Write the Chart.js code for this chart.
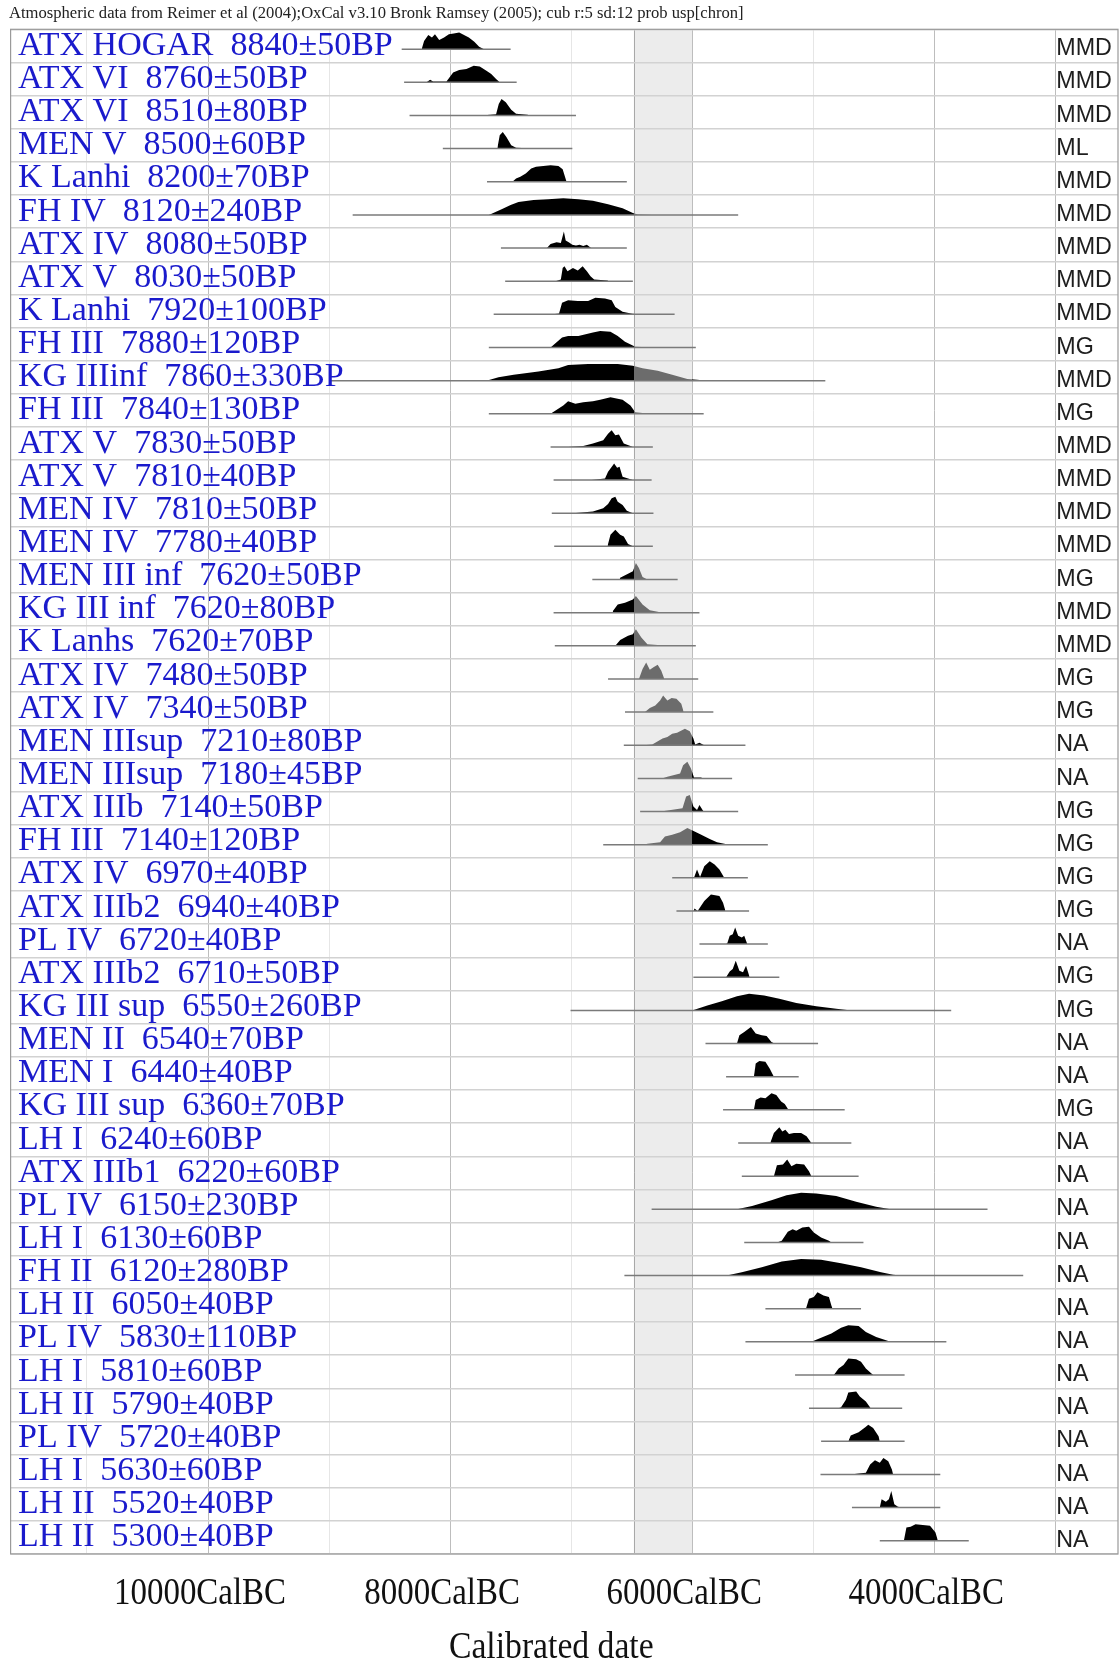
<!DOCTYPE html>
<html>
<head>
<meta charset="utf-8">
<script src="https://cdn.jsdelivr.net/npm/chart.js@4.4.1/dist/chart.umd.min.js"></script>
<style>
  html, body { margin: 0; padding: 0; background: #fff; }
  #wrap { width: 1119px; height: 1664px; }
</style>
</head>
<body>
<div id="wrap"><canvas id="chart" width="1119" height="1664"></canvas></div>
<script>
// sample names, radiocarbon ages (BP) and errors, one per row, top to bottom
const NAMES = ['ATX HOGAR', 'ATX VI', 'ATX VI', 'MEN V', 'K Lanhi', 'FH IV', 'ATX IV', 'ATX V', 'K Lanhi', 'FH III',
  'KG IIIinf', 'FH III', 'ATX V', 'ATX V', 'MEN IV', 'MEN IV', 'MEN III inf', 'KG III inf', 'K Lanhs', 'ATX IV',
  'ATX IV', 'MEN IIIsup', 'MEN IIIsup', 'ATX IIIb', 'FH III', 'ATX IV', 'ATX IIIb2', 'PL IV', 'ATX IIIb2', 'KG III sup',
  'MEN II', 'MEN I', 'KG III sup', 'LH I', 'ATX IIIb1', 'PL IV', 'LH I', 'FH II', 'LH II', 'PL IV',
  'LH I', 'LH II', 'PL IV', 'LH I', 'LH II', 'LH II']
const BP = [8840, 8760, 8510, 8500, 8200, 8120, 8080, 8030, 7920, 7880,
  7860, 7840, 7830, 7810, 7810, 7780, 7620, 7620, 7620, 7480,
  7340, 7210, 7180, 7140, 7140, 6970, 6940, 6720, 6710, 6550,
  6540, 6440, 6360, 6240, 6220, 6150, 6130, 6120, 6050, 5830,
  5810, 5790, 5720, 5630, 5520, 5300]
const ERR = [50, 50, 80, 60, 70, 240, 50, 50, 100, 120,
  330, 130, 50, 40, 50, 40, 50, 80, 70, 50,
  50, 80, 45, 50, 120, 40, 40, 40, 50, 260,
  70, 40, 70, 60, 60, 230, 60, 280, 40, 110,
  60, 40, 40, 60, 40, 40]
const PHASE = ['MMD', 'MMD', 'MMD', 'ML', 'MMD', 'MMD', 'MMD', 'MMD', 'MMD', 'MG',
  'MMD', 'MG', 'MMD', 'MMD', 'MMD', 'MMD', 'MG', 'MMD', 'MMD', 'MG',
  'MG', 'NA', 'NA', 'MG', 'MG', 'MG', 'MG', 'NA', 'MG', 'MG',
  'NA', 'NA', 'MG', 'NA', 'NA', 'NA', 'NA', 'NA', 'NA', 'NA',
  'NA', 'NA', 'NA', 'NA', 'NA', 'NA']

// plotted range of each calibrated date, cal BC [from, to]
const RANGES = [[8400, 7500], [8380, 7450], [8335, 6960], [8060, 6990], [7695, 6540], [8805, 5620], [7580, 6540], [7545, 6490], [7640, 6145], [7680, 5970],
  [8990, 4900], [7680, 5905], [7170, 6325], [7145, 6335], [7160, 6320], [7140, 6325], [6825, 6120], [7145, 5940], [7135, 5970], [6695, 5950],
  [6555, 5825], [6565, 5560], [6450, 5670], [6430, 5620], [6735, 5375], [6165, 5540], [6130, 5530], [5940, 5375], [5990, 5280], [7005, 3860],
  [5890, 4960], [5720, 5120], [5745, 4740], [5620, 4685], [5590, 4625], [6335, 3560], [5570, 4585], [6560, 3265], [5395, 4605], [5560, 3900],
  [5150, 4245], [5035, 4265], [4935, 4245], [4940, 3950], [4680, 3950], [4450, 3715]]

// probability distributions: [cal BC, relative probability]
const DISTS = [
  [[8235, 0], [8215, 0.5], [8180, 0.85], [8150, 0.7], [8125, 0.9], [8090, 0.55], [8050, 0.7], [8010, 0.9], [7970, 0.95], [7925, 1], [7885, 0.85], [7845, 0.7], [7800, 0.45], [7760, 0.15], [7720, 0]],
  [[8195, 0], [8165, 0.15], [8140, 0.05], [8030, 0.05], [7975, 0.6], [7925, 0.75], [7865, 0.8], [7805, 1], [7755, 0.95], [7700, 0.7], [7660, 0.5], [7620, 0.2], [7590, 0]],
  [[7745, 0], [7620, 0.08], [7598, 0.7], [7575, 1], [7540, 0.8], [7495, 0.35], [7455, 0.1], [7360, 0.04], [7345, 0]],
  [[7610, 0], [7590, 0.8], [7565, 1], [7535, 0.7], [7495, 0.2], [7455, 0.05], [7360, 0.03], [7350, 0]],
  [[7485, 0], [7455, 0.2], [7420, 0.3], [7375, 0.5], [7330, 0.8], [7290, 0.9], [7230, 0.95], [7170, 1], [7105, 0.95], [7070, 0.75], [7040, 0.05], [6820, 0.02], [6800, 0]],
  [[7680, 0], [7570, 0.35], [7500, 0.6], [7435, 0.78], [7310, 0.9], [7190, 0.95], [7065, 1], [6940, 0.95], [6820, 0.85], [6695, 0.65], [6575, 0.4], [6490, 0.12], [6450, 0.03], [6330, 0]],
  [[7200, 0], [7170, 0.25], [7120, 0.35], [7085, 0.3], [7060, 1], [7045, 0.45], [7020, 0.35], [6990, 0.2], [6960, 0.15], [6930, 0.2], [6900, 0.12], [6870, 0.2], [6835, 0]],
  [[7130, 0], [7085, 0.1], [7070, 0.8], [7055, 0.9], [7030, 0.6], [6985, 0.8], [6945, 0.65], [6905, 0.9], [6870, 0.6], [6840, 0.3], [6810, 0.1], [6700, 0.04], [6690, 0]],
  [[7150, 0], [7100, 0.05], [7075, 0.7], [7025, 0.85], [6945, 0.8], [6860, 0.8], [6800, 1], [6720, 0.95], [6665, 0.85], [6635, 0.45], [6575, 0.15], [6495, 0.03], [6450, 0]],
  [[7170, 0], [7075, 0.6], [7025, 0.7], [6940, 0.7], [6880, 0.8], [6820, 0.9], [6760, 1], [6675, 0.95], [6615, 0.7], [6555, 0.35], [6470, 0.05], [6370, 0.02], [6360, 0]],
  [[7700, 0], [7600, 0.2], [7475, 0.35], [7270, 0.55], [7105, 0.75], [7025, 0.95], [6860, 1], [6615, 1], [6490, 0.9], [6410, 0.75], [6285, 0.6], [6165, 0.35], [6040, 0.1], [5960, 0.05], [5875, 0]],
  [[7170, 0], [7065, 0.5], [7025, 0.75], [6965, 0.6], [6900, 0.7], [6820, 0.75], [6760, 0.85], [6675, 1], [6575, 0.85], [6510, 0.5], [6470, 0.1], [6370, 0.02], [6360, 0]],
  [[7025, 0], [6900, 0.05], [6820, 0.2], [6735, 0.4], [6695, 0.8], [6665, 1], [6635, 0.7], [6605, 0.75], [6565, 0.2], [6510, 0.05], [6490, 0]],
  [[6830, 0], [6720, 0.1], [6695, 0.5], [6655, 0.9], [6645, 1], [6620, 0.75], [6600, 0.8], [6575, 0.2], [6510, 0.05], [6490, 0]],
  [[6985, 0], [6820, 0.1], [6735, 0.3], [6695, 0.55], [6665, 0.9], [6635, 1], [6615, 0.7], [6575, 0.5], [6540, 0.15], [6490, 0]],
  [[6700, 0], [6675, 0.7], [6635, 1], [6595, 0.7], [6565, 0.6], [6530, 0.15], [6490, 0]],
  [[6600, 0], [6595, 0.1], [6530, 0.35], [6490, 0.5], [6465, 1], [6440, 0.7], [6410, 0.15], [6370, 0]],
  [[6660, 0], [6655, 0.1], [6615, 0.5], [6555, 0.6], [6490, 0.8], [6465, 1], [6410, 0.5], [6350, 0.15], [6285, 0.05], [6250, 0]],
  [[6635, 0], [6595, 0.35], [6530, 0.6], [6490, 0.7], [6465, 1], [6420, 0.5], [6370, 0.1], [6285, 0.05], [6270, 0]],
  [[6440, 0], [6410, 0.6], [6380, 1], [6350, 0.55], [6320, 0.7], [6285, 0.85], [6255, 0.5], [6230, 0]],
  [[6390, 0], [6350, 0.25], [6305, 0.4], [6265, 0.7], [6240, 1], [6205, 0.7], [6170, 0.85], [6130, 0.8], [6090, 0.5], [6070, 0]],
  [[6400, 0], [6330, 0.05], [6245, 0.4], [6205, 0.5], [6165, 0.7], [6125, 0.75], [6060, 1], [6020, 0.85], [5990, 0.4], [5975, 0.05], [5940, 0.15], [5900, 0]],
  [[6250, 0], [6205, 0.1], [6100, 0.3], [6075, 0.8], [6040, 1], [6010, 0.6], [5985, 0.05], [5925, 0.05], [5915, 0]],
  [[6300, 0], [6245, 0.02], [6080, 0.2], [6050, 0.9], [6020, 1], [5990, 0.3], [5960, 0.1], [5940, 0.4], [5910, 0.05], [5900, 0]],
  [[6400, 0], [6370, 0.05], [6265, 0.15], [6225, 0.5], [6165, 0.6], [6100, 0.75], [6040, 1], [5980, 0.8], [5925, 0.6], [5855, 0.35], [5795, 0.15], [5735, 0.05], [5700, 0]],
  [[5985, 0], [5960, 0.5], [5935, 0.05], [5900, 0.7], [5855, 1], [5815, 0.8], [5775, 0.5], [5735, 0]],
  [[5990, 0], [5980, 0.15], [5955, 0], [5900, 0.6], [5845, 1], [5775, 0.9], [5745, 0.5], [5725, 0]],
  [[5720, 0], [5710, 0.05], [5690, 0.5], [5665, 0.6], [5645, 1], [5620, 0.5], [5590, 0.4], [5570, 0.5], [5545, 0]],
  [[5720, 0], [5690, 0.35], [5665, 0.5], [5640, 1], [5610, 0.4], [5580, 0.3], [5555, 0.7], [5525, 0]],
  [[6000, 0], [5875, 0.3], [5755, 0.55], [5630, 0.85], [5530, 1], [5405, 0.9], [5280, 0.7], [5140, 0.45], [4975, 0.25], [4810, 0.1], [4685, 0]],
  [[5630, 0], [5610, 0.5], [5570, 0.7], [5515, 1], [5475, 0.6], [5425, 0.5], [5385, 0.45], [5345, 0.1], [5320, 0]],
  [[5490, 0], [5475, 0.8], [5445, 0.95], [5395, 0.9], [5360, 0.5], [5325, 0]],
  [[5490, 0], [5475, 0.6], [5435, 0.75], [5395, 0.7], [5345, 1], [5305, 0.9], [5265, 0.5], [5235, 0.35], [5205, 0], [5170, 0.03], [5080, 0.03], [5070, 0]],
  [[5355, 0], [5325, 0.6], [5280, 0.95], [5255, 0.7], [5230, 0.8], [5200, 0.55], [5160, 0.6], [5100, 0.6], [5055, 0.4], [5015, 0]],
  [[5325, 0], [5300, 0.65], [5250, 0.7], [5215, 1], [5180, 0.6], [5140, 0.75], [5075, 0.7], [5035, 0.3], [5015, 0]],
  [[5630, 0], [5505, 0.2], [5345, 0.55], [5220, 0.85], [5100, 1], [4975, 0.95], [4810, 0.8], [4645, 0.45], [4480, 0.15], [4360, 0]],
  [[5300, 0], [5260, 0.1], [5210, 0.65], [5170, 0.8], [5140, 0.7], [5090, 0.9], [5035, 0.95], [4995, 0.6], [4935, 0.3], [4870, 0.1], [4850, 0]],
  [[5715, 0], [5590, 0.2], [5425, 0.5], [5260, 0.85], [5100, 1], [4935, 0.95], [4770, 0.75], [4605, 0.5], [4440, 0.2], [4340, 0.05], [4275, 0]],
  [[5210, 0], [5200, 0.05], [5190, 0], [5060, 0], [5035, 0.6], [4995, 0.7], [4965, 1], [4915, 0.8], [4870, 0.7], [4850, 0.2], [4840, 0]],
  [[5015, 0], [4935, 0.25], [4850, 0.5], [4770, 0.85], [4710, 1], [4625, 0.95], [4565, 0.6], [4480, 0.3], [4380, 0.05], [4360, 0]],
  [[4830, 0], [4790, 0.4], [4750, 0.6], [4710, 1], [4645, 0.95], [4605, 0.8], [4565, 0.4], [4505, 0]],
  [[4790, 0], [4770, 0.05], [4730, 0.5], [4710, 0.95], [4645, 1], [4615, 0.7], [4565, 0.4], [4525, 0]],
  [[4710, 0], [4690, 0.35], [4625, 0.55], [4570, 0.85], [4545, 1], [4505, 0.8], [4460, 0.3], [4450, 0]],
  [[4690, 0], [4625, 0.05], [4565, 0.1], [4530, 0.6], [4490, 0.85], [4450, 0.7], [4420, 1], [4380, 0.8], [4350, 0.3], [4340, 0]],
  [[4450, 0], [4435, 0.5], [4400, 0.35], [4375, 0.5], [4355, 1], [4330, 0.2], [4300, 0.05], [4270, 0]],
  [[4330, 0], [4320, 0.05], [4250, 0.05], [4230, 0.8], [4195, 0.85], [4155, 1], [4095, 0.95], [4035, 0.9], [3990, 0.5], [3970, 0]]
]

// shaded interval (cal BC), grid years and labelled years
const BAND = [6482, 6000]
const GRID_YEARS = [3000, 4000, 5000, 6000, 7000, 8000, 9000, 10000, 11000]
const TICK_YEARS = [10000, 8000, 6000, 4000]
const TITLE = 'Atmospheric data from Reimer et al (2004);OxCal v3.10 Bronk Ramsey (2005); cub r:5 sd:12 prob usp[chron]'
const AXIS_TITLE = 'Calibrated date'

const BASE = 0.6   // baseline of each row, in row units below the row line
const PEAK = 0.5   // height of a full-probability peak, in row units

function bandFill(c) {
    let chart = c.chart
    let area = chart.chartArea
    let xs = chart.scales.x
    if (!area || !xs) return '#000'
    let w = area.right - area.left
    let f1 = (xs.getPixelForValue(BAND[0]) - area.left) / w
    let f2 = (xs.getPixelForValue(BAND[1]) - area.left) / w
    let g = chart.ctx.createLinearGradient(area.left, 0, area.right, 0)
    g.addColorStop(0, '#000')
    g.addColorStop(f1, '#000')
    g.addColorStop(f1, '#6c6c6c')
    g.addColorStop(f2, '#6c6c6c')
    g.addColorStop(f2, '#000')
    g.addColorStop(1, '#000')
    return g
}

let datasets = []
NAMES.forEach((n, i) => {
    datasets.push({
        data: RANGES[i].map(yr => ({x: yr, y: i + BASE})),
        borderColor: '#7a7a7a',
        borderWidth: 1.5,
        pointRadius: 0,
        fill: false
    })
    datasets.push({
        data: DISTS[i].map(([yr, p]) => ({x: yr, y: i + BASE - p * PEAK})),
        borderColor: 'rgba(0,0,0,0)',
        borderWidth: 0.5,
        backgroundColor: bandFill,
        pointRadius: 0,
        tension: 0,
        fill: {value: i + BASE}
    })
})

function drawText(ctx, str, x, y, font, color, align, sx) {
    ctx.save()
    ctx.font = font
    ctx.fillStyle = color
    ctx.textAlign = align
    ctx.textBaseline = 'alphabetic'
    ctx.translate(x, y)
    ctx.scale(sx, 1)
    ctx.fillText(str, 0, 0)
    ctx.restore()
}

const decor = {
    id: 'decor',
    beforeDraw(chart) {
        let {ctx, chartArea: a, scales: {x}} = chart
        ctx.save()
        ctx.fillStyle = '#fff'
        ctx.fillRect(0, 0, chart.width, chart.height)
        let b0 = x.getPixelForValue(BAND[0]), b1 = x.getPixelForValue(BAND[1])
        ctx.fillStyle = '#ececec'
        ctx.fillRect(b0, a.top, b1 - b0, a.bottom - a.top)
        ctx.strokeStyle = '#a8a8a8'
        ctx.lineWidth = 1
        ctx.beginPath()
        ctx.moveTo(Math.round(b0) + 0.5, a.top)
        ctx.lineTo(Math.round(b0) + 0.5, a.bottom)
        ctx.stroke()
        ctx.restore()
    },
    afterDatasetsDraw(chart) {
        let {ctx, chartArea: a, scales: {x, y}} = chart
        NAMES.forEach((n, i) => {
            let top = y.getPixelForValue(i)
            drawText(ctx, `${n}  ${BP[i]}±${ERR[i]}BP`, 18, top + 25.5, '34px "Liberation Serif"', '#1a1acc', 'left', 1)
            drawText(ctx, PHASE[i], x.getPixelForValue(3000) + 1, top + 26, '24px "Liberation Sans"', '#1e1e1e', 'left', 0.97)
        })
        ctx.save()
        ctx.strokeStyle = '#9a9a9a'
        ctx.lineWidth = 1.2
        ctx.strokeRect(a.left, a.top, a.right - a.left, a.bottom - a.top)
        ctx.restore()
        drawText(ctx, TITLE, 9, 18, '16.6px "Liberation Serif"', '#222', 'left', 1)
        TICK_YEARS.forEach(v => {
            drawText(ctx, `${v}CalBC`, x.getPixelForValue(v) - 8, 1604, '37px "Liberation Serif"', '#111', 'center', 0.89)
        })
        drawText(ctx, AXIS_TITLE, (a.left + a.right) / 2 - 13, 1658, '37px "Liberation Serif"', '#111', 'center', 0.91)
    }
}

new Chart(document.getElementById('chart'), {
    type: 'line',
    data: {datasets: datasets},
    plugins: [decor],
    options: {
        responsive: false,
        animation: false,
        devicePixelRatio: 1,
        events: [],
        layout: {padding: {left: 10.6, right: 1, top: 29.3, bottom: 110}},
        plugins: {legend: {display: false}, tooltip: {enabled: false}, title: {display: false}},
        scales: {
            x: {
                type: 'linear',
                reverse: true,
                min: 2482,
                max: 11631,
                afterBuildTicks: s => { s.ticks = GRID_YEARS.map(v => ({value: v})) },
                ticks: {display: false},
                border: {display: false},
                grid: {
                    drawTicks: false,
                    lineWidth: 1,
                    color: c => (c.tick.value % 2000 === 0 || c.tick.value === 3000) ? '#bdbdbd' : '#e6e6e6'
                }
            },
            y: {
                type: 'linear',
                reverse: true,
                min: 0,
                max: NAMES.length,
                afterBuildTicks: s => { s.ticks = NAMES.map((n, i) => ({value: i})).concat([{value: NAMES.length}]) },
                ticks: {display: false},
                border: {display: false},
                grid: {drawTicks: false, lineWidth: 1.5, color: '#d2d2d2'}
            }
        }
    }
})
</script>
</body>
</html>
